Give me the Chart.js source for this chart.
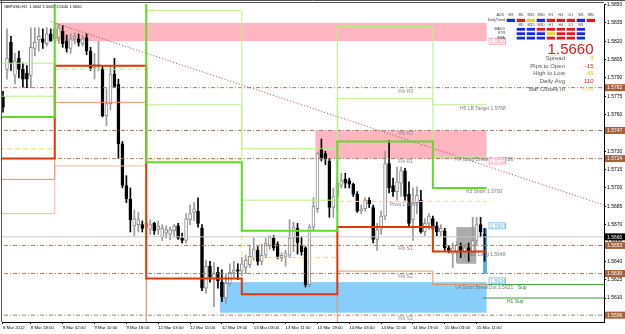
<!DOCTYPE html>
<html>
<head>
<meta charset="utf-8">
<script src="https://cdn.jsdelivr.net/npm/chart.js@4.4.1/dist/chart.umd.min.js"></script>
<style>
  html, body { margin: 0; padding: 0; background: #fff; }
</style>
</head>
<body>
<canvas id="priceChart" width="625" height="334"></canvas>
<script>
// GBPUSD H1 candles, bar 0 = 8 Mar 11:00
const opens = [
  1.5775, 1.5797, 1.5819, 1.5792, 1.5806, 1.5797, 1.5794, 1.5792, 1.5814, 1.5821,
  1.5822, 1.5818, 1.5826, 1.5822, 1.5823, 1.5828, 1.5820, 1.5814, 1.5822, 1.5822,
  1.5818, 1.5823, 1.5812, 1.5798, 1.5800, 1.5797, 1.5759, 1.5769, 1.5793, 1.5785,
  1.5736, 1.5702, 1.5691, 1.5669, 1.5670, 1.5670, 1.5668, 1.5666, 1.5671, 1.5666,
  1.5660, 1.5663, 1.5662, 1.5665, 1.5669, 1.5659, 1.5657, 1.5674, 1.5680, 1.5681,
  1.5667, 1.5618, 1.5636, 1.5626, 1.5631, 1.5623, 1.5610, 1.5622, 1.5631, 1.5633,
  1.5632, 1.5635, 1.5637, 1.5643, 1.5649, 1.5640, 1.5645, 1.5653, 1.5659, 1.5654,
  1.5643, 1.5644, 1.5645, 1.5659, 1.5667, 1.5653, 1.5651, 1.5621, 1.5668, 1.5683,
  1.5732, 1.5728, 1.5722, 1.5684, 1.5693, 1.5702, 1.5707, 1.5706, 1.5703, 1.5695,
  1.5681, 1.5683, 1.5690, 1.5684, 1.5658, 1.5666, 1.5677, 1.5720, 1.5702, 1.5697,
  1.5704, 1.5714, 1.5695, 1.5674, 1.5688, 1.5690, 1.5664, 1.5671, 1.5675, 1.5669,
  1.5664, 1.5665, 1.5651, 1.5646, 1.5647, 1.5652, 1.5648, 1.5651, 1.5647, 1.5657,
  1.5670, 1.5662
];
const highs = [
  1.5779, 1.5830, 1.5824, 1.5810, 1.5812, 1.5802, 1.5800, 1.5831, 1.5831, 1.5831,
  1.5830, 1.5831, 1.5830, 1.5835, 1.5834, 1.5833, 1.5825, 1.5826, 1.5827, 1.5826,
  1.5825, 1.5826, 1.5815, 1.5810, 1.5820, 1.5800, 1.5781, 1.5800, 1.5806, 1.5789,
  1.5738, 1.5710, 1.5700, 1.5682, 1.5680, 1.5673, 1.5678, 1.5674, 1.5672, 1.5673,
  1.5670, 1.5669, 1.5668, 1.5670, 1.5671, 1.5663, 1.5679, 1.5686, 1.5688, 1.5692,
  1.5670, 1.5641, 1.5640, 1.5639, 1.5635, 1.5633, 1.5630, 1.5638, 1.5640, 1.5638,
  1.5643, 1.5645, 1.5652, 1.5659, 1.5652, 1.5654, 1.5659, 1.5661, 1.5661, 1.5656,
  1.5647, 1.5649, 1.5674, 1.5672, 1.5671, 1.5660, 1.5652, 1.5670, 1.5692, 1.5729,
  1.5740, 1.5730, 1.5724, 1.5700, 1.5709, 1.5712, 1.5712, 1.5708, 1.5704, 1.5697,
  1.5686, 1.5692, 1.5692, 1.5686, 1.5671, 1.5681, 1.5730, 1.5739, 1.5708, 1.5717,
  1.5717, 1.5716, 1.5705, 1.5700, 1.5701, 1.5698, 1.5675, 1.5679, 1.5677, 1.5672,
  1.5670, 1.5667, 1.5653, 1.5655, 1.5656, 1.5655, 1.5654, 1.5655, 1.5676, 1.5676,
  1.5676, 1.5667
];
const lows = [
  1.5762, 1.5789, 1.5796, 1.5785, 1.5790, 1.5782, 1.5782, 1.5782, 1.5808, 1.5812,
  1.5814, 1.5816, 1.5820, 1.5820, 1.5818, 1.5815, 1.5811, 1.5810, 1.5818, 1.5816,
  1.5816, 1.5809, 1.5796, 1.5789, 1.5796, 1.5758, 1.5751, 1.5764, 1.5782, 1.5724,
  1.5700, 1.5688, 1.5664, 1.5661, 1.5664, 1.5664, 1.5659, 1.5662, 1.5662, 1.5662,
  1.5657, 1.5659, 1.5658, 1.5660, 1.5658, 1.5655, 1.5655, 1.5670, 1.5673, 1.5668,
  1.5616, 1.5614, 1.5623, 1.5603, 1.5618, 1.5607, 1.5605, 1.5620, 1.5627, 1.5625,
  1.5628, 1.5630, 1.5635, 1.5641, 1.5637, 1.5637, 1.5643, 1.5650, 1.5649, 1.5642,
  1.5640, 1.5636, 1.5643, 1.5648, 1.5646, 1.5645, 1.5619, 1.5619, 1.5665, 1.5680,
  1.5722, 1.5719, 1.5676, 1.5676, 1.5680, 1.5700, 1.5700, 1.5700, 1.5693, 1.5680,
  1.5679, 1.5681, 1.5684, 1.5655, 1.5649, 1.5662, 1.5674, 1.5696, 1.5693, 1.5690,
  1.5693, 1.5690, 1.5669, 1.5657, 1.5679, 1.5663, 1.5661, 1.5666, 1.5665, 1.5661,
  1.5661, 1.5649, 1.5647, 1.5635, 1.5640, 1.5643, 1.5643, 1.5640, 1.5645, 1.5653,
  1.5660, 1.5640
];
const closes = [
  1.5766, 1.5806, 1.5802, 1.5804, 1.5797, 1.5789, 1.5789, 1.5815, 1.5819, 1.5824,
  1.5819, 1.5826, 1.5820, 1.5830, 1.5831, 1.5818, 1.5814, 1.5822, 1.5824, 1.5819,
  1.5822, 1.5812, 1.5798, 1.5801, 1.5801, 1.5759, 1.5769, 1.5793, 1.5783, 1.5736,
  1.5702, 1.5691, 1.5674, 1.5675, 1.5674, 1.5667, 1.5671, 1.5670, 1.5665, 1.5669,
  1.5667, 1.5666, 1.5666, 1.5669, 1.5659, 1.5657, 1.5675, 1.5679, 1.5683, 1.5671,
  1.5618, 1.5636, 1.5627, 1.5630, 1.5624, 1.5611, 1.5622, 1.5631, 1.5633, 1.5632,
  1.5638, 1.5641, 1.5644, 1.5650, 1.5640, 1.5645, 1.5655, 1.5660, 1.5651, 1.5644,
  1.5645, 1.5647, 1.5659, 1.5668, 1.5655, 1.5648, 1.5621, 1.5668, 1.5685, 1.5728,
  1.5724, 1.5724, 1.5684, 1.5693, 1.5704, 1.5706, 1.5704, 1.5703, 1.5695, 1.5681,
  1.5683, 1.5690, 1.5687, 1.5658, 1.5666, 1.5677, 1.5720, 1.5700, 1.5697, 1.5705,
  1.5714, 1.5693, 1.5671, 1.5688, 1.5694, 1.5664, 1.5671, 1.5677, 1.5667, 1.5664,
  1.5667, 1.5651, 1.5649, 1.5651, 1.5653, 1.5649, 1.5651, 1.5648, 1.5657, 1.5670,
  1.5664, 1.5660
];

const xTickBars = [0, 7, 15, 23, 31, 39, 47, 55, 63, 71, 79, 87, 95, 103, 111, 119];
const xTickLabels = [
  "8 Mar 2012", "8 Mar 18:00", "9 Mar 02:00", "9 Mar 10:00", "9 Mar 18:00",
  "12 Mar 03:00", "12 Mar 11:00", "12 Mar 19:00", "13 Mar 03:00", "13 Mar 11:00",
  "13 Mar 19:00", "14 Mar 03:00", "14 Mar 11:00", "14 Mar 19:00", "15 Mar 03:00",
  "15 Mar 11:00"
];
const yTickValues = [
  1.5850, 1.5835, 1.5820, 1.5805, 1.5790, 1.5775, 1.5760, 1.5745, 1.5730,
  1.5715, 1.5700, 1.5685, 1.5670, 1.5655, 1.5640, 1.5625, 1.5610
];

// daily pivot levels (first bar of each day), values off the picture are just outside it
const dayStartBars = [-1, 13, 36, 60, 84, 108];
const levelEndBar = 121.5;
const h5Levels = [1.5802, 1.5900, 1.5845, 1.5732, 1.5832, 1.5768];
const h4Levels = [1.5775, 1.5880, 1.5768, 1.5690, 1.5773, 1.5726];
const h3Levels = [1.5758, 1.5870, 1.5721, 1.5665, 1.5738, 1.5700];
const pivotLevels = [1.5732, 1.5797, 1.5723, 1.5643, 1.5689, 1.5689];
const l3Levels = [1.5724, 1.5800, 1.5626, 1.5613, 1.5668, 1.5648];
const l4Levels = [1.5707, 1.5770, 1.5560, 1.5560, 1.5632, 1.5621];
const l5Levels = [1.5679, 1.5718, 1.5540, 1.5540, 1.5540, 1.5540];

const fibLevels = [1.5782, 1.5747, 1.5724, 1.5653, 1.5630, 1.5596];
const fibNames = ["Fib R3", "Fib R2", "Fib R1", "Fib S1", "Fib S2", "Fib S3"];
const lastPrice = 1.5660;
const supLevels = [1.5621, 1.5610];
const supStartBars = [121.5, 120.5];

const trendBars = [12, 152];
const trendPrices = [1.5836, 1.5685];

// zones: two resistance, one support, the range box and the last bar range
const zoneStart = [13, 78.5, 54.5, 113.9, 120.6];
const zoneEnd = [121.5, 121.5, 121.5, 118.9, 121.6];
const zoneTop = [1.5835, 1.5747, 1.5623, 1.5668, 1.5667];
const zoneBottom = [1.5820, 1.5724, 1.5598, 1.5638, 1.5630];

const tfTop = ["M1", "M5", "M15", "M30", "H1", "H4", "D1", "W1", "MN"];
const trendRow = ["b", "r", "y", "b", "r", "r", "r", "b", "r"];
const tfLow = ["M5", "M15", "M30", "H1", "H4", "D1", "W1"];
const macdRow = ["b", "b", "r", "r", "r", "r", "b"];
const strRow = ["b", "b", "b", "y", "r", "r", "b"];
const emaRow = ["b", "b", "b", "r", "r", "r", "b"];
const statNames = ["Spread", "Pips to Open", "High to Low", "Daily Avg", "Bar Closes In"];
const statValues = ["3", "-15", "45", "110", "5:46"];

const FONT = '"Liberation Sans", Arial, sans-serif';
const cellColors = { b: "#1428e6", r: "#e8141e", y: "#f2d21e" };

function stepData(levels) {
  const pts = dayStartBars.map((b, k) => ({ x: b, y: levels[k] }));
  pts.push({ x: levelEndBar, y: levels[levels.length - 1] });
  return pts;
}

function levelLine(levels, color, width, dash) {
  return {
    type: "line",
    data: stepData(levels),
    borderColor: color,
    borderWidth: width,
    borderDash: dash || [],
    stepped: true,
    pointRadius: 0,
    fill: false,
    order: 2,
  };
}

const isUp = opens.map((o, i) => closes[i] >= o);
const wickData = opens.map((o, i) => ({ x: i, y: [lows[i], highs[i]] }));
const bodyData = opens.map((o, i) => ({
  x: i,
  y: [Math.min(o, closes[i]), Math.max(o, closes[i])],
}));

const fibData = [];
fibLevels.forEach((v) => {
  fibData.push({ x: -2, y: v }, { x: 160, y: v }, { x: 160, y: null });
});
const supData = [];
supLevels.forEach((v, k) => {
  supData.push({ x: supStartBars[k], y: v }, { x: 160, y: v }, { x: 160, y: null });
});

function px(chart, bar, price) {
  return [chart.scales.x.getPixelForValue(bar), chart.scales.y.getPixelForValue(price)];
}

const overlay = {
  id: "overlay",
  beforeDatasetsDraw(chart) {
    const { ctx, chartArea } = chart;
    ctx.save();
    ctx.beginPath();
    ctx.rect(chartArea.left, chartArea.top, chartArea.width, chartArea.height);
    ctx.clip();
    const fills = ["#ffb6c1", "#ffb6c1", "#87cefa", "#ababab", "#5aaee6"];
    zoneStart.forEach((s, k) => {
      const [x0, y0] = px(chart, s, zoneTop[k]);
      const [x1, y1] = px(chart, zoneEnd[k], zoneBottom[k]);
      ctx.fillStyle = fills[k];
      ctx.fillRect(x0, y0, x1 - x0, y1 - y0);
    });
    ctx.restore();
  },
  afterDatasetsDraw(chart) {
    const { ctx } = chart;
    ctx.save();
    ctx.textBaseline = "top";
    ctx.textAlign = "left";
    ctx.font = "5px " + FONT;
    ctx.fillStyle = "#8a8a8a";
    fibLevels.forEach((v, k) => {
      const [x, y] = px(chart, 99.3, v);
      ctx.fillText(fibNames[k], x, y + 1);
    });
    const notes = [
      ["Pivot 1.5689", 97.2, 1.5689, "#8a8a8a"],
      ["H5 LB Target 1.5768", 114.8, 1.5768, "#7a7a7a"],
      ["H4 Long BreakOut 1.5726", 113.6, 1.5726, "#7a7a7a"],
      ["H3 Short 1.5700", 116.3, 1.5700, "#7a7a7a"],
      ["L3 Long 1.5648", 117.5, 1.5648, "#7a7a7a"],
      ["L4 Short BreakOut 1.5621", 113.6, 1.5621, "#7a7a7a"],
      ["Sup", 129.3, 1.5621, "#2e8b2e"],
      ["H1 Sup", 126.6, 1.5610, "#2e8b2e"],
    ];
    notes.forEach(([t, b, p, c]) => {
      const [x, y] = px(chart, b, p);
      ctx.fillStyle = c;
      ctx.fillText(t, x, y + 1);
    });
    // small price tags at the right end of the zones
    const tags = [
      ["1.5820", 1.5820, "#ff8fa8"],
      ["1.5722", 1.5722, "#ff8fa8"],
      ["1.5667", 1.5669, "#62b6ec"],
      ["1.5624", 1.5624, "#62b6ec"],
    ];
    ctx.textBaseline = "middle";
    tags.forEach(([t, p, c]) => {
      const [x, y] = px(chart, 122, p);
      ctx.fillStyle = "#fff";
      ctx.fillRect(x, y - 3, 17, 6);
      ctx.strokeStyle = c;
      ctx.lineWidth = 0.8;
      ctx.strokeRect(x + 0.5, y - 3, 16.5, 6);
      ctx.fillStyle = c;
      ctx.fillText(t, x + 2, y + 0.3);
    });
    ctx.restore();
  },
  afterDraw(chart) {
    const { ctx, chartArea } = chart;
    ctx.save();
    // frame
    ctx.strokeStyle = "#555";
    ctx.lineWidth = 1;
    ctx.beginPath();
    ctx.moveTo(1.5, 0);
    ctx.lineTo(1.5, chartArea.bottom);
    ctx.moveTo(0, 0.5);
    ctx.lineTo(625, 0.5);
    ctx.moveTo(0, 2.5);
    ctx.lineTo(chartArea.right, 2.5);
    ctx.stroke();

    // price tags on the right scale
    ctx.textBaseline = "middle";
    ctx.textAlign = "left";
    ctx.font = "5px " + FONT;
    const boxes = fibLevels.map((v) => [v, "#a5603c"]).concat([[lastPrice, "#000"]]);
    boxes.forEach(([v, c]) => {
      const y = chart.scales.y.getPixelForValue(v);
      ctx.fillStyle = c;
      ctx.fillRect(chartArea.right + 1, y - 3.5, 20, 7);
      ctx.fillStyle = "#fff";
      ctx.fillText(v.toFixed(4), chartArea.right + 3, y + 0.3);
    });

    // header
    ctx.fillStyle = "#000";
    ctx.font = "4px " + FONT;
    ctx.fillText("GBPUSD,H1  1.5662 1.5667 1.5640 1.5660", 4, 6.5);

    // trend panel
    ctx.font = "3.6px " + FONT;
    ctx.fillStyle = "#333";
    ctx.textAlign = "center";
    const colX = (k) => 506.7 + k * 10;
    tfTop.forEach((t, k) => ctx.fillText(t, colX(k) + 4.2, 15.3));
    tfLow.forEach((t, k) => ctx.fillText(t, colX(k + 1) + 4.2, 24.6));
    ctx.textAlign = "right";
    ctx.fillText("ADX", 504, 15.3);
    ctx.fillText("DailyTrend", 505, 20.4);
    ctx.fillText("MACD", 505, 29.4);
    ctx.fillText("STR", 505, 33.4);
    ctx.fillText("EMA", 505, 38);
    trendRow.forEach((c, k) => {
      ctx.fillStyle = cellColors[c];
      ctx.fillRect(colX(k), 18.8, 8.3, 3.2);
    });
    [macdRow, strRow, emaRow].forEach((row, r) => {
      row.forEach((c, k) => {
        ctx.fillStyle = cellColors[c];
        ctx.fillRect(colX(k + 1), 27.9 + r * 4.4, 8.3, 2.8);
      });
    });

    ctx.font = "15px " + FONT;
    ctx.fillStyle = "#e01818";
    ctx.textAlign = "right";
    ctx.textBaseline = "alphabetic";
    ctx.fillText(lastPrice.toFixed(4), 593.5, 53.5);

    ctx.font = "6px " + FONT;
    ctx.textBaseline = "middle";
    const statY = [58.3, 66, 73.5, 81, 89.2];
    const statColors = ["#e6c000", "#e01818", "#e6c000", "#e01818", "#e8d070"];
    statNames.forEach((n, k) => {
      ctx.fillStyle = "#555";
      ctx.fillText(n, 565, statY[k]);
      ctx.fillStyle = statColors[k];
      ctx.fillText(statValues[k], 593.5, statY[k]);
    });
    ctx.restore();
  },
};

new Chart(document.getElementById("priceChart"), {
  type: "bar",
  data: {
    datasets: [
      levelLine(h3Levels, "#62da2c", 2),
      levelLine(l3Levels, "#dc3a0a", 2),
      levelLine(pivotLevels, "#ece25a", 1, [5, 3]),
      levelLine(h5Levels, "#b6f08a", 1),
      levelLine(h4Levels, "#b6f08a", 1),
      levelLine(l4Levels, "#e8906a", 1),
      levelLine(l5Levels, "#f6bca6", 1),
      {
        type: "line",
        data: trendBars.map((b, k) => ({ x: b, y: trendPrices[k] })),
        borderColor: "#a04848",
        borderWidth: 1,
        borderDash: [1, 2],
        pointRadius: 0,
        order: 3,
      },
      {
        type: "line",
        data: fibData,
        borderColor: "#a87a5c",
        borderWidth: 1,
        borderDash: [4, 2, 1, 2],
        spanGaps: false,
        pointRadius: 0,
        order: 4,
      },
      {
        type: "line",
        data: [{ x: -2, y: lastPrice }, { x: 160, y: lastPrice }],
        borderColor: "#c8c8c8",
        borderWidth: 1,
        pointRadius: 0,
        order: 5,
      },
      {
        type: "line",
        data: supData,
        borderColor: "#3c9a3c",
        borderWidth: 1,
        spanGaps: false,
        pointRadius: 0,
        order: 2,
      },
      {
        data: bodyData,
        backgroundColor: isUp.map((u) => (u ? "#ffffff" : "#000000")),
        borderColor: isUp.map((u) => (u ? "#8c8c8c" : "#000000")),
        borderWidth: 1,
        borderSkipped: false,
        barThickness: 3,
        minBarLength: 1,
        grouped: false,
        order: 6,
      },
      {
        data: wickData,
        backgroundColor: isUp.map((u) => (u ? "#9a9a9a" : "#000000")),
        borderWidth: 0,
        barThickness: 1,
        grouped: false,
        order: 7,
      },
    ],
  },
  options: {
    responsive: false,
    animation: false,
    devicePixelRatio: 1,
    layout: { padding: { left: 2, top: 3, right: 0, bottom: 0 } },
    plugins: { legend: { display: false }, tooltip: { enabled: false } },
    scales: {
      x: {
        type: "linear",
        offset: false,
        min: -0.25,
        max: 151,
        grid: { offset: false, drawOnChartArea: false, tickLength: 2, color: "#000" },
        border: { color: "#000" },
        afterBuildTicks: (scale) => {
          scale.ticks = xTickBars.map((v) => ({ value: v }));
        },
        afterFit: (scale) => {
          scale.height = 12;
        },
        ticks: {
          autoSkip: false,
          maxRotation: 0,
          align: "start",
          padding: 1,
          color: "#000",
          font: { family: FONT, size: 4.3 },
          callback: (v, i) => xTickLabels[i],
        },
      },
      y: {
        type: "linear",
        position: "right",
        beginAtZero: false,
        min: 1.55904,
        max: 1.58504,
        grid: { drawOnChartArea: false, tickLength: 2, color: "#000" },
        border: { color: "#000" },
        afterBuildTicks: (scale) => {
          scale.ticks = yTickValues.map((v) => ({ value: v }));
        },
        afterFit: (scale) => {
          scale.width = 21;
        },
        ticks: {
          padding: 1,
          color: "#000",
          font: { family: FONT, size: 5 },
          callback: (v) => v.toFixed(4),
        },
      },
    },
  },
  plugins: [overlay],
});
</script>
</body>
</html>
